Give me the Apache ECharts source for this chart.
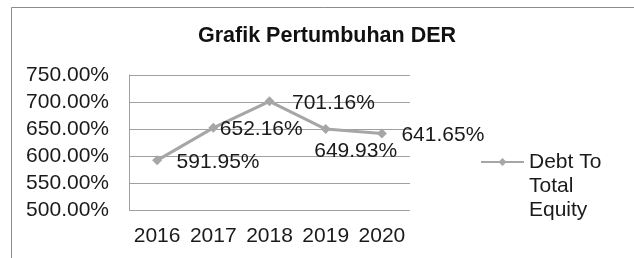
<!DOCTYPE html>
<html>
<head>
<meta charset="utf-8">
<script src="https://cdn.jsdelivr.net/npm/echarts@6/dist/echarts.min.js"></script>
<style>
html,body{margin:0;padding:0;background:#fff;}
#chart{width:634px;height:258px;}
</style>
</head>
<body>
<div id="chart"></div>
<script>
var categories = ['2016', '2017', '2018', '2019', '2020'];
var derValues = [591.95, 652.16, 701.16, 649.93, 641.65];
var seriesName = 'Debt To Total Equity';
var yTicks = [500, 550, 600, 650, 700, 750];
var titleText = 'Grafik Pertumbuhan DER';

var labelOffsets = [[14.5, 2], [1.5, 1], [17.5, 2], [-16.5, 22], [14.5, 2]];
var FONT = 'Liberation Sans, Arial, sans-serif';
var chart = echarts.init(document.getElementById('chart'));
chart.setOption({
  animation: false,
  backgroundColor: '#fff',
  textStyle: { fontFamily: FONT },
  graphic: [{
    type: 'rect', left: 9, top: 5, silent: true,
    shape: { width: 700, height: 400 },
    style: { fill: 'none', stroke: '#8c8c8c', lineWidth: 1 }
  }],
  title: {
    text: titleText, left: 198, top: 25, padding: 0,
    textStyle: { fontFamily: FONT, fontSize: 21.5, fontWeight: 'bold', color: '#111' }
  },
  legend: {
    left: 480, top: 102, padding: 0, itemWidth: 43, itemHeight: 10,
    data: [{ name: seriesName }],
    formatter: function () { return ' \n \nDebt To\nTotal\nEquity'; },
    textStyle: { fontFamily: FONT, fontSize: 21, color: '#1a1a1a', lineHeight: 24 }
  },
  grid: { left: 129, right: 224, top: 75, bottom: 48, containLabel: false },
  xAxis: {
    type: 'category', data: categories, boundaryGap: true,
    axisLine: { show: false }, axisTick: { show: false },
    axisLabel: { interval: 0, margin: 16, fontSize: 21, color: '#1a1a1a', fontFamily: FONT }
  },
  yAxis: {
    type: 'value', min: yTicks[0], max: yTicks[yTicks.length - 1], interval: 50,
    axisLine: { show: true, lineStyle: { color: '#a0a0a0', width: 1 } },
    axisTick: { show: false },
    splitLine: { lineStyle: { color: '#a0a0a0', width: 1 } },
    axisLabel: { margin: 20, fontSize: 21, color: '#1a1a1a', fontFamily: FONT,
      formatter: function (v) { return v.toFixed(2) + '%'; } }
  },
  series: [{
    name: seriesName, type: 'line',
    data: derValues.map(function (v, i) {
      return { value: v, label: { offset: labelOffsets[i] } };
    }),
    symbol: 'diamond', symbolSize: 10,
    lineStyle: { color: '#a6a6a6', width: 3 },
    itemStyle: { color: '#a6a6a6' },
    label: {
      show: true, position: 'right', distance: 0,
      fontSize: 21, color: '#1a1a1a', fontFamily: FONT,
      formatter: function (p) { return p.value.toFixed(2) + '%'; }
    }
  }]
});
</script>
</body>
</html>
